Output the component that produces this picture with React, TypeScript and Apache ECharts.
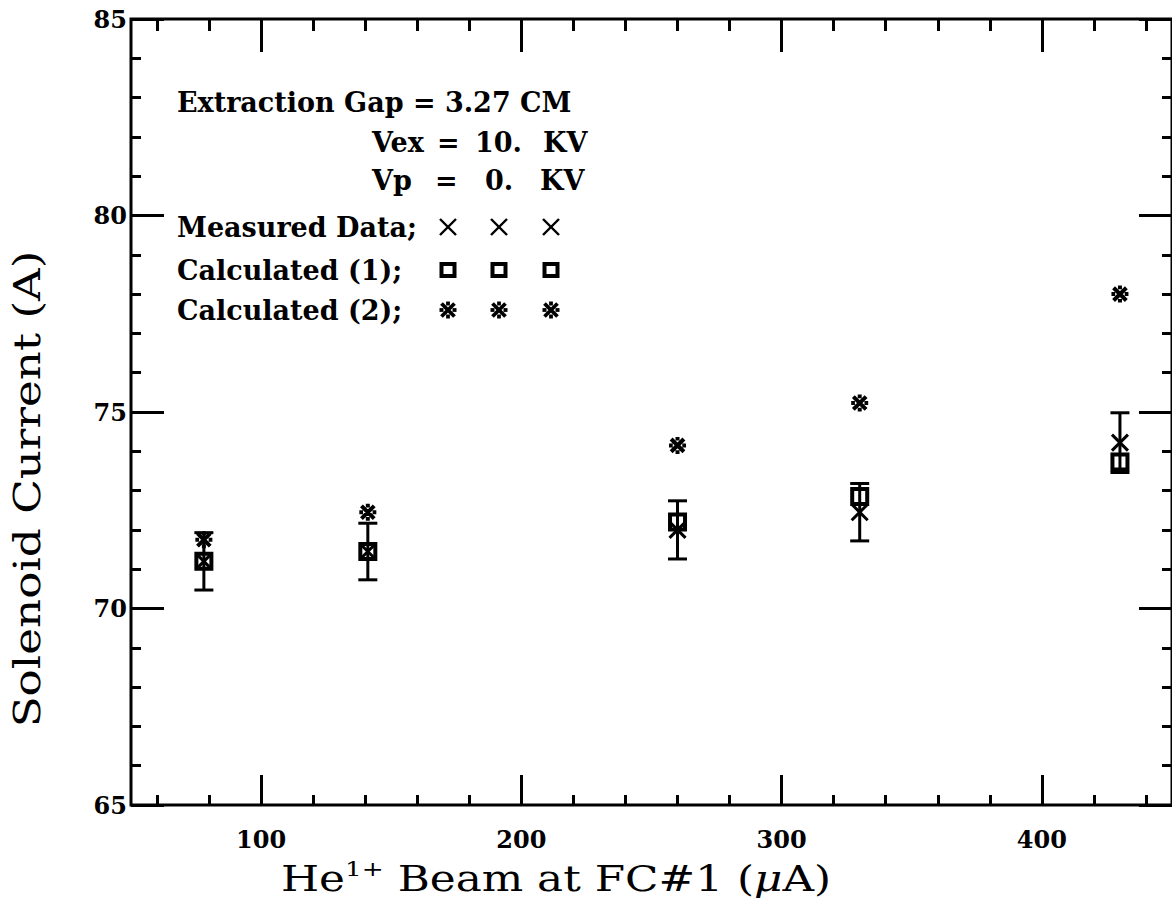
import React, { useEffect, useRef } from 'react';
import * as echarts from 'echarts';

// ---- data ----
const beamCurrent = [78, 141, 260, 330, 430];
const measured = [71.2, 71.45, 72.0, 72.45, 74.22];
const measuredErr = [0.73, 0.72, 0.74, 0.73, 0.76];
const calculated1 = [71.2, 71.45, 72.2, 72.85, 73.73];
const calculated2 = [71.75, 72.45, 74.15, 75.23, 78.0];

const xMajorTicks = [100, 200, 300, 400];
const xMinorTicks = [60, 80, 120, 140, 160, 180, 220, 240, 260, 280, 320, 340, 360, 380, 420, 440];

const infoLines = ['Extraction Gap = 3.27 CM'];
const legendLabels = ['Measured Data;', 'Calculated (1);', 'Calculated (2);'];

const FONT = '"DejaVu Serif", serif';
const BLACK = '#000';

const CROSS_PATH = 'path://M0,0L10,10M10,0L0,10';
const STAR_PATH = 'path://M2,2L14,14M14,2L2,14M8,0L8,3.5M8,12.5L8,16M0,8L3.5,8M12.5,8L16,8';

function crossMarker(cx: number, cy: number, h: number) {
  return {
    type: 'group',
    children: [
      { type: 'line', shape: { x1: cx - h, y1: cy - h, x2: cx + h, y2: cy + h }, style: { stroke: BLACK, lineWidth: 2.4 } },
      { type: 'line', shape: { x1: cx + h, y1: cy - h, x2: cx - h, y2: cy + h }, style: { stroke: BLACK, lineWidth: 2.4 } },
    ],
  };
}
function squareMarker(cx: number, cy: number) {
  return {
    type: 'rect',
    shape: { x: cx - 6.5, y: cy - 6, width: 13, height: 12 },
    style: { fill: 'none', stroke: BLACK, lineWidth: 4 },
  };
}
function starMarker(cx: number, cy: number) {
  const s = { stroke: BLACK, lineWidth: 3.8 };
  return {
    type: 'group',
    children: [
      { type: 'line', shape: { x1: cx - 6.5, y1: cy - 6.5, x2: cx + 6.5, y2: cy + 6.5 }, style: s },
      { type: 'line', shape: { x1: cx + 6.5, y1: cy - 6.5, x2: cx - 6.5, y2: cy + 6.5 }, style: s },
      { type: 'line', shape: { x1: cx, y1: cy - 8.5, x2: cx, y2: cy - 4.5 }, style: s },
      { type: 'line', shape: { x1: cx, y1: cy + 4.5, x2: cx, y2: cy + 8.5 }, style: s },
      { type: 'line', shape: { x1: cx - 8.5, y1: cy, x2: cx - 4.5, y2: cy }, style: s },
      { type: 'line', shape: { x1: cx + 4.5, y1: cy, x2: cx + 8.5, y2: cy }, style: s },
    ],
  };
}

function boldText(text: string, x: number, y: number) {
  return {
    type: 'text',
    x,
    y,
    style: {
      text,
      font: `bold 27px ${FONT}`,
      fill: BLACK,
      align: 'left',
      verticalAlign: 'middle',
      textAlign: 'left',
      textVerticalAlign: 'middle',
    },
  };
}

export default function App() {
  const ref = useRef<HTMLDivElement>(null);

  useEffect(() => {
    if (!ref.current) return;
    const chart = echarts.init(ref.current, undefined, { renderer: 'svg' });

    const errData = beamCurrent.map((x, i) => [x, measured[i] - measuredErr[i], measured[i] + measuredErr[i]]);
    const measData = beamCurrent.map((x, i) => [x, measured[i]]);
    const c1Data = beamCurrent.map((x, i) => [x, calculated1[i]]);
    const c2Data = beamCurrent.map((x, i) => [x, calculated2[i]]);

    const tickStyle = { color: BLACK, width: 3 };
    const baseX = {
      type: 'value',
      min: 50,
      max: 450,
      axisLine: { show: false },
      splitLine: { show: false },
    };

    const legendRows = [227, 270, 310];
    const markerCols = [448, 499, 551];

    const graphic: any[] = [
      boldText(infoLines[0], 177, 102),
      boldText('Vex', 372, 142),
      boldText('=', 437, 142),
      boldText('10.', 475, 142),
      boldText('KV', 543, 142),
      boldText('Vp', 372, 180),
      boldText('=', 435, 180),
      boldText('0.', 485, 180),
      boldText('KV', 540, 180),
    ];
    legendLabels.forEach((t, i) => graphic.push(boldText(t, 177, legendRows[i])));
    markerCols.forEach((cx) => {
      graphic.push(crossMarker(cx, legendRows[0], 8));
      graphic.push(squareMarker(cx, legendRows[1]));
      graphic.push(starMarker(cx, legendRows[2]));
    });
    graphic.push({
      type: 'text',
      x: 27,
      y: 489,
      rotation: Math.PI / 2,
      scaleX: 1.19,
      style: {
        text: 'Solenoid Current (A)',
        font: `38px ${FONT}`,
        fill: BLACK,
        align: 'center',
        verticalAlign: 'middle',
        textAlign: 'center',
        textVerticalAlign: 'middle',
      },
    });
    graphic.push({
      type: 'text',
      x: 556,
      y: 879,
      scaleX: 1.25,
      style: {
        text: '{a|He}{s|1+}{a| Beam at FC#1 (}{m|μ}{a|A)}',
        fill: BLACK,
        align: 'center',
        verticalAlign: 'middle',
        textAlign: 'center',
        textVerticalAlign: 'middle',
        rich: {
          a: { fontFamily: FONT, fontSize: 35, lineHeight: 42, fill: BLACK, color: BLACK },
          s: { fontFamily: FONT, fontSize: 21, lineHeight: 40, verticalAlign: 'top', fill: BLACK, color: BLACK },
          m: { fontFamily: FONT, fontSize: 35, lineHeight: 42, fontStyle: 'italic', fill: BLACK, color: BLACK },
        },
      },
    });

    const option: any = {
      animation: false,
      backgroundColor: '#fff',
      grid: {
        left: 131,
        top: 19,
        width: 1046,
        height: 786,
        show: true,
        borderColor: BLACK,
        borderWidth: 3,
        backgroundColor: 'transparent',
      },
      xAxis: [
        {
          ...baseX,
          position: 'bottom',
          axisTick: { show: true, inside: true, length: 30, customValues: xMajorTicks, lineStyle: tickStyle },
          axisLabel: {
            show: true,
            customValues: xMajorTicks,
            color: BLACK,
            fontFamily: FONT,
            fontWeight: 'bold',
            fontSize: 24,
            margin: 22,
          },
        },
        {
          ...baseX,
          position: 'bottom',
          axisTick: { show: true, inside: true, length: 10, customValues: xMinorTicks, lineStyle: tickStyle },
          axisLabel: { show: false },
        },
        {
          ...baseX,
          position: 'top',
          axisTick: { show: true, inside: true, length: 33, customValues: xMajorTicks, lineStyle: tickStyle },
          axisLabel: { show: false },
        },
        {
          ...baseX,
          position: 'top',
          axisTick: { show: true, inside: true, length: 12, customValues: xMinorTicks, lineStyle: tickStyle },
          axisLabel: { show: false },
        },
      ],
      yAxis: [
        {
          type: 'value',
          min: 65,
          max: 85,
          interval: 5,
          position: 'left',
          axisLine: { show: false },
          splitLine: { show: false },
          axisTick: { show: true, inside: true, length: 33, lineStyle: tickStyle },
          minorTick: { show: true, splitNumber: 5, length: 10, lineStyle: tickStyle },
          minorSplitLine: { show: false },
          axisLabel: {
            color: BLACK,
            fontFamily: FONT,
            fontWeight: 'bold',
            fontSize: 24,
            margin: 4,
          },
        },
        {
          type: 'value',
          min: 65,
          max: 85,
          interval: 5,
          position: 'right',
          axisLine: { show: false },
          splitLine: { show: false },
          axisTick: { show: true, inside: true, length: 33, lineStyle: tickStyle },
          minorTick: { show: true, splitNumber: 5, length: 10, lineStyle: tickStyle },
          minorSplitLine: { show: false },
          axisLabel: { show: false },
        },
      ],
      graphic,
      series: [
        {
          type: 'custom',
          name: 'Error',
          xAxisIndex: 0,
          yAxisIndex: 0,
          data: errData,
          z: 2,
          renderItem: (params: any, api: any) => {
            const x = api.value(0);
            const lo = api.coord([x, api.value(1)]);
            const hi = api.coord([x, api.value(2)]);
            const st = { stroke: BLACK, lineWidth: 3 };
            const cap = 9.5;
            return {
              type: 'group',
              children: [
                { type: 'line', shape: { x1: lo[0], y1: lo[1], x2: hi[0], y2: hi[1] }, style: st },
                { type: 'line', shape: { x1: lo[0] - cap, y1: lo[1], x2: lo[0] + cap, y2: lo[1] }, style: st },
                { type: 'line', shape: { x1: hi[0] - cap, y1: hi[1], x2: hi[0] + cap, y2: hi[1] }, style: st },
              ],
            };
          },
        },
        {
          type: 'scatter',
          name: 'Measured Data',
          xAxisIndex: 0,
          yAxisIndex: 0,
          data: measData,
          symbol: CROSS_PATH,
          symbolSize: 16,
          itemStyle: { color: 'none', borderColor: BLACK, borderWidth: 3, opacity: 1 },
          z: 3,
        },
        {
          type: 'scatter',
          name: 'Calculated (1)',
          xAxisIndex: 0,
          yAxisIndex: 0,
          data: c1Data,
          symbol: 'rect',
          symbolSize: 15,
          itemStyle: { color: 'none', borderColor: BLACK, borderWidth: 4, opacity: 1 },
          z: 3,
        },
        {
          type: 'scatter',
          name: 'Calculated (2)',
          xAxisIndex: 0,
          yAxisIndex: 0,
          data: c2Data,
          symbol: STAR_PATH,
          symbolSize: 17,
          itemStyle: { color: 'none', borderColor: BLACK, borderWidth: 4, opacity: 1 },
          z: 3,
        },
      ],
    };

    chart.setOption(option);
    return () => chart.dispose();
  }, []);

  return (
    <div
      ref={ref}
      style={{ position: 'fixed', left: 0, top: 0, width: 1172, height: 909, background: '#fff' }}
    />
  );
}
